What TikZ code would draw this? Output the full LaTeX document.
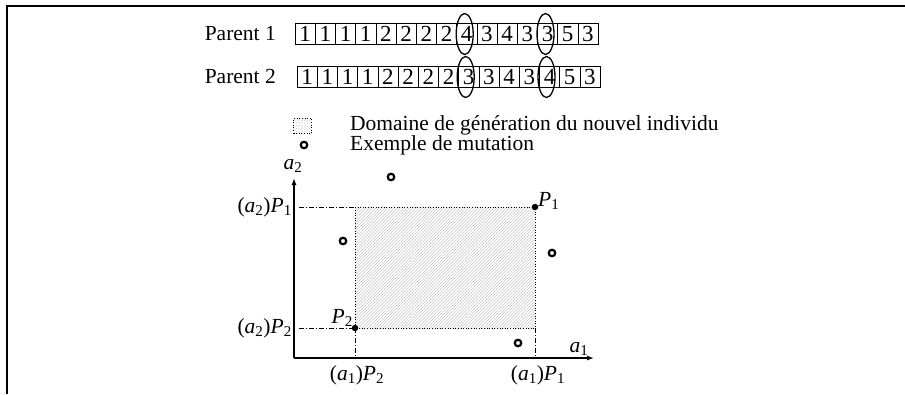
\documentclass[tikz,border=0pt]{standalone}
\usepackage{fontspec}
\setmainfont{Liberation Serif}
\usetikzlibrary{shapes.geometric,patterns.meta,arrows.meta}
\newcommand\vi[1]{\textit{#1}}
\begin{document}
\begin{tikzpicture}[x=1pt,y=-1pt,
  txt/.style={inner sep=0pt,font=\fontsize{21.5}{21.5}\selectfont},
  cell/.style={draw,line width=0.6pt,minimum width=20.2pt,minimum height=21.5pt,inner sep=0pt,font=\fontsize{23}{23}\selectfont},
  sel/.style={draw,ellipse,line width=1.3pt,minimum width=17pt,minimum height=41pt,inner sep=0pt},
  ring/.style={circle,draw,line width=2.2pt,minimum size=6.5pt,inner sep=0pt},
  pdot/.style={circle,fill,minimum size=6.5pt,inner sep=0pt},
  dashdot/.style={line width=0.7pt,dash pattern=on 5pt off 2pt on 1pt off 2pt},
  dotline/.style={line width=0.7pt,dash pattern=on 1pt off 1.6pt},
  hatch/.style={pattern={Lines[angle=45,distance=2.2pt,line width=0.35pt]},pattern color=gray!60},
  axis/.style={line width=1.3pt,-{Latex[length=7pt,width=5pt]}}]
\useasboundingbox (0,0) rectangle (905,394);
% frame
\draw[line width=1.3pt] (7,394) -- (7,6) -- (905,6);
% chromosomes
\node[txt,anchor=east] (lp1) at (276,34) {Parent 1};
\node[txt,anchor=east] (lp2) at (276,76) {Parent 2};
\foreach \d [count=\i] in {1,1,1,1,2,2,2,2,4,3,4,3,3,5,3}
  \node[cell] (a\i) at ({295+10.1+(\i-1)*20.2},34) {\d};
\foreach \d [count=\i] in {1,1,1,1,2,2,2,2,3,3,4,3,4,5,3}
  \node[cell] (b\i) at ({297+10.1+(\i-1)*20.2},77) {\d};
\node[sel] (e1) at ([xshift=-2pt]a9.center) {};
\node[sel] (e2) at ([xshift=-2pt]a13.center) {};
\node[sel] (e3) at ([xshift=-3pt]b9.center) {};
\node[sel] (e4) at ([xshift=-3pt]b13.center) {};
% legend
\node[hatch,draw,dotline,minimum width=18pt,minimum height=15pt,inner sep=0pt] (leg1) at (302.5,126) {};
\node[ring] (leg2) at (304,145) {};
\node[txt,anchor=base west] (legt1) at (350,130) {Domaine de génération du nouvel individu};
\node[txt,anchor=base west] (legt2) at (350,150) {Exemple de mutation};
% axes
\coordinate (O) at (294,358);
\coordinate (Ytip) at (294,178);
\coordinate (Xtip) at (594,358);
\draw[axis] (O) -- (Ytip);
\draw[axis] (O) -- (Xtip);
\node[txt] (la2) at (293,166) {\vi{a}\textsubscript{2}};
\node[txt] (la1) at (579,349) {\vi{a}\textsubscript{1}};
% points and domain
\coordinate (P1) at (535,207);
\coordinate (P2) at (355,328);
\coordinate (C12) at (355,207);
\coordinate (C21) at (535,328);
\fill[hatch] (P2) rectangle (P1);
\draw[dotline] (C12) -- (P1) -- (C21) -- (P2) -- (C12);
\coordinate (Y1) at (299,207);
\coordinate (Y2) at (299,328);
\coordinate (X2) at (355,358);
\coordinate (X1) at (535,358);
\draw[dashdot] (Y1) -- (C12);
\draw[dashdot] (Y2) -- (P2);
\draw[dashdot] (P2) -- (X2);
\draw[dashdot] (C21) -- (X1);
\node[pdot] (d1) at (P1) {};
\node[pdot] (d2) at (P2) {};
\node[txt,anchor=base west] (lP1) at (538,206) {\vi{P}\textsubscript{1}};
\node[txt,anchor=base east] (lP2) at (353,323) {\vi{P}\textsubscript{2}};
\node[txt,anchor=east] (ly1) at (292,207) {(\vi{a}\textsubscript{2})\vi{P}\textsubscript{1}};
\node[txt,anchor=east] (ly2) at (292,328) {(\vi{a}\textsubscript{2})\vi{P}\textsubscript{2}};
\node[txt] (lx2) at (357,375) {(\vi{a}\textsubscript{1})\vi{P}\textsubscript{2}};
\node[txt] (lx1) at (538,375) {(\vi{a}\textsubscript{1})\vi{P}\textsubscript{1}};
% mutation examples
\node[ring] (m1) at (391,177) {};
\node[ring] (m2) at (343,241) {};
\node[ring] (m3) at (552,253) {};
\node[ring] (m4) at (518,343) {};
\end{tikzpicture}
\end{document}
